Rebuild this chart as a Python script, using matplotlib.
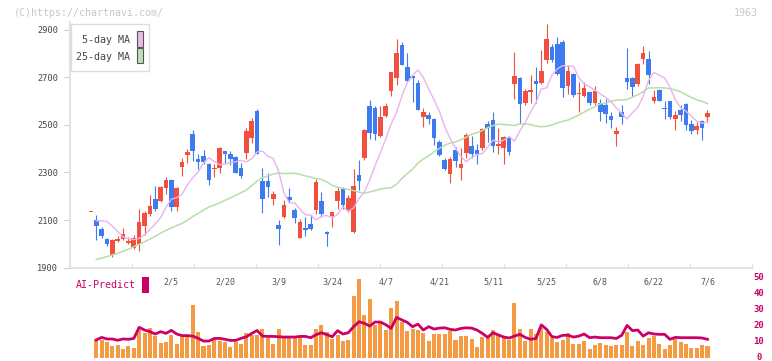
import matplotlib
matplotlib.use('Agg')
import matplotlib.pyplot as plt
from matplotlib.patches import Rectangle

# price candles, one per trading day (day 0 = previous close marker)
opens = [2133, 2100, 2062, 2020, 1953, 2012, 2020, 2005, 1984, 1999,
         2076, 2125, 2188, 2180, 2235, 2268, 2155, 2323, 2375, 2462,
         2357, 2369, 2335, 2314, 2319, 2390, 2377, 2365, 2319, 2382,
         2445, 2558, 2264, 2264, 2188, 2079, 2113, 2197, 2142, 2026,
         2067, 2084, 2142, 2180, 2050, 2117, 2180, 2231, 2138, 2050,
         2289, 2360, 2579, 2571, 2453, 2537, 2642, 2697, 2835, 2743,
         2705, 2676, 2533, 2542, 2525, 2428, 2352, 2294, 2394, 2319,
         2382, 2411, 2394, 2403, 2504, 2520, 2411, 2403, 2449, 2672,
         2697, 2592, 2638, 2684, 2676, 2772, 2827, 2840, 2848, 2663,
         2714, 2630, 2621, 2638, 2592, 2592, 2583, 2537, 2462, 2554,
         2697, 2697, 2672, 2777, 2777, 2600, 2646, 2571, 2600, 2525,
         2562, 2588, 2504, 2478, 2516, 2533]
highs = [2133, 2121, 2070, 2026, 2021, 2033, 2067, 2030, 2037, 2146,
         2139, 2206, 2243, 2243, 2283, 2273, 2238, 2362, 2400, 2478,
         2377, 2394, 2340, 2335, 2405, 2392, 2390, 2370, 2340, 2487,
         2529, 2567, 2320, 2299, 2223, 2100, 2184, 2235, 2151, 2104,
         2113, 2121, 2273, 2218, 2054, 2136, 2239, 2239, 2205, 2315,
         2352, 2483, 2604, 2579, 2579, 2592, 2722, 2861, 2848, 2802,
         2706, 2689, 2571, 2554, 2529, 2436, 2361, 2365, 2407, 2403,
         2466, 2453, 2420, 2485, 2516, 2554, 2487, 2452, 2452, 2806,
         2700, 2651, 2709, 2743, 2815, 2924, 2840, 2869, 2856, 2751,
         2718, 2680, 2680, 2640, 2663, 2608, 2608, 2554, 2491, 2583,
         2823, 2701, 2760, 2831, 2810, 2646, 2650, 2600, 2602, 2558,
         2583, 2590, 2520, 2512, 2520, 2562]
lows = [2133, 2018, 2025, 1991, 1947, 2008, 2018, 1998, 1978, 1971,
        2037, 2117, 2140, 2176, 2210, 2139, 2139, 2285, 2341, 2348,
        2315, 2335, 2247, 2281, 2299, 2335, 2330, 2298, 2275, 2357,
        2424, 2377, 2130, 2197, 2163, 1995, 2109, 2176, 2088, 2025,
        2033, 2058, 2125, 2113, 1991, 2071, 2146, 2146, 2134, 2046,
        2226, 2352, 2440, 2436, 2449, 2533, 2621, 2668, 2751, 2680,
        2596, 2563, 2491, 2504, 2415, 2369, 2310, 2256, 2323, 2268,
        2361, 2361, 2335, 2394, 2428, 2386, 2377, 2335, 2373, 2608,
        2504, 2583, 2592, 2592, 2672, 2760, 2764, 2709, 2617, 2630,
        2617, 2554, 2617, 2583, 2583, 2516, 2508, 2487, 2411, 2504,
        2651, 2617, 2663, 2755, 2672, 2592, 2600, 2525, 2525, 2478,
        2516, 2478, 2462, 2462, 2436, 2512]
closes = [2133, 2076, 2034, 1999, 2016, 2020, 2041, 2013, 2025, 2092,
          2130, 2159, 2146, 2239, 2268, 2156, 2235, 2344, 2386, 2390,
          2344, 2344, 2268, 2319, 2403, 2377, 2356, 2298, 2285, 2474,
          2516, 2377, 2188, 2239, 2210, 2062, 2163, 2184, 2109, 2092,
          2058, 2062, 2260, 2125, 2041, 2134, 2222, 2163, 2193, 2243,
          2264, 2478, 2466, 2462, 2533, 2579, 2722, 2802, 2751, 2684,
          2697, 2563, 2554, 2525, 2445, 2373, 2314, 2357, 2348, 2335,
          2457, 2377, 2377, 2483, 2487, 2411, 2420, 2449, 2386, 2705,
          2588, 2642, 2646, 2672, 2726, 2861, 2772, 2714, 2655, 2726,
          2625, 2634, 2655, 2592, 2642, 2554, 2546, 2520, 2474, 2533,
          2680, 2659, 2755, 2802, 2709, 2617, 2600, 2567, 2533, 2542,
          2542, 2499, 2474, 2495, 2487, 2550]

# moving averages, days 1..115
ma5 = [2097, 2097, 2094, 2074, 2052, 2029, 2022, 2018, 2023, 2038,
       2060, 2084, 2110, 2153, 2188, 2194, 2209, 2248, 2278, 2302,
       2340, 2362, 2346, 2333, 2336, 2342, 2345, 2351, 2344, 2358,
       2386, 2390, 2368, 2359, 2306, 2215, 2172, 2172, 2146, 2122,
       2121, 2101, 2116, 2119, 2109, 2124, 2156, 2137, 2151, 2191,
       2217, 2268, 2329, 2383, 2441, 2504, 2552, 2620, 2677, 2708,
       2731, 2699, 2650, 2605, 2557, 2492, 2442, 2403, 2367, 2345,
       2362, 2375, 2379, 2406, 2436, 2427, 2436, 2450, 2431, 2474,
       2510, 2554, 2593, 2651, 2655, 2709, 2735, 2749, 2746, 2746,
       2698, 2671, 2659, 2646, 2630, 2615, 2598, 2571, 2547, 2525,
       2551, 2573, 2620, 2686, 2721, 2708, 2697, 2659, 2605, 2572,
       2557, 2537, 2515, 2507, 2513]
ma25 = [1935, 1940, 1947, 1954, 1961, 1969, 1978, 1988, 1998, 2009,
        2020, 2032, 2045, 2057, 2067, 2077, 2086, 2100, 2115, 2128,
        2142, 2155, 2163, 2172, 2183, 2193, 2204, 2215, 2226, 2245,
        2264, 2278, 2285, 2293, 2298, 2295, 2296, 2297, 2292, 2285,
        2281, 2274, 2271, 2260, 2246, 2238, 2233, 2229, 2224, 2217,
        2213, 2218, 2224, 2231, 2234, 2236, 2250, 2275, 2295, 2314,
        2340, 2356, 2370, 2387, 2401, 2414, 2424, 2428, 2437, 2448,
        2461, 2467, 2476, 2488, 2497, 2503, 2501, 2500, 2497, 2504,
        2504, 2501, 2495, 2492, 2494, 2500, 2508, 2515, 2520, 2531,
        2541, 2554, 2566, 2576, 2588, 2592, 2599, 2604, 2604, 2606,
        2617, 2626, 2639, 2655, 2655, 2656, 2655, 2652, 2646, 2639,
        2626, 2615, 2605, 2599, 2589]

# lower panel, days 1..115
volume = [11.7, 11.0, 9.8, 7.3, 7.9, 5.4, 7.3, 6.0, 17.3, 15.4,
          18.5, 13.5, 9.2, 9.8, 14.2, 8.5, 12.9, 12.9, 32.9, 16.0,
          7.3, 7.9, 11.0, 10.4, 9.8, 6.7, 9.8, 8.5, 15.4, 14.0,
          14.2, 17.9, 12.3, 8.5, 17.9, 12.3, 12.3, 12.3, 12.9, 7.9,
          7.9, 17.9, 20.4, 16.0, 11.7, 14.2, 10.4, 11.0, 38.6, 49.2,
          26.7, 36.7, 20.4, 21.7, 17.3, 31.0, 35.4, 22.3, 16.7, 17.9,
          17.3, 15.4, 10.4, 14.8, 14.8, 14.8, 16.7, 11.0, 13.5, 13.5,
          11.7, 6.7, 12.9, 12.3, 17.3, 14.8, 13.0, 11.0, 34.2, 17.9,
          10.4, 17.9, 14.8, 18.5, 16.0, 12.3, 9.8, 11.0, 15.4, 8.5,
          8.5, 10.4, 5.4, 7.9, 9.2, 7.9, 7.3, 7.9, 7.9, 16.0,
          7.3, 10.4, 7.9, 12.3, 13.5, 8.5, 5.4, 7.9, 11.7, 9.8,
          8.5, 6.0, 6.0, 7.9, 7.3]
ai_predict = [11.1, 12.7, 11.7, 11.7, 10.9, 11.7, 11.5, 12.0, 19.0, 17.3,
              16.3, 14.8, 16.3, 15.2, 17.1, 14.8, 13.8, 13.8, 13.5, 12.1,
              10.4, 10.4, 12.0, 12.1, 11.5, 10.8, 10.8, 12.1, 13.1, 15.2,
              17.0, 13.5, 13.3, 13.3, 13.1, 12.9, 12.9, 12.9, 13.3, 13.3,
              12.5, 14.4, 15.6, 14.4, 13.1, 16.9, 14.8, 15.6, 19.4, 22.5,
              21.5, 19.8, 22.3, 22.3, 20.6, 18.3, 25.2, 23.6, 22.1, 19.4,
              21.0, 17.3, 19.4, 17.9, 18.5, 18.7, 17.7, 17.3, 18.3, 18.7,
              18.5, 17.3, 15.2, 12.7, 15.6, 14.2, 12.9, 12.3, 13.5, 14.6,
              12.7, 11.5, 12.0, 20.5, 17.7, 13.1, 12.7, 14.0, 14.0, 12.9,
              13.5, 14.8, 12.5, 12.9, 12.5, 12.5, 12.5, 12.0, 14.0, 20.2,
              16.9, 17.3, 13.5, 15.6, 14.8, 14.6, 14.6, 11.5, 12.7, 12.5,
              12.5, 12.5, 12.5, 12.3, 11.5]

date_labels = ['2/5', '2/20', '3/9', '3/24', '4/7', '4/21',
               '5/11', '5/25', '6/8', '6/22', '7/6']
date_days = [15, 25, 35, 45, 55, 65, 75, 85, 95, 105, 115]

W, H = 772, 361
RED = '#f2503f'
BLUE = '#3f7bf0'
CRIMSON = '#cc0066'
MONO = 'DejaVu Sans Mono'

def fx(x):
    return x / W

def fy(y):
    return 1 - y / H

fig = plt.figure(figsize=(W / 100, H / 100), dpi=100)

# main price panel
y_bottom_px = 267.7
px_per_unit = 1 / 4.2
ytop = 2930
top_px = y_bottom_px - (ytop - 1900) * px_per_unit
ax = fig.add_axes([fx(70), fy(y_bottom_px), fx(752) - fx(70), (y_bottom_px - top_px) / H])

days = list(range(len(closes)))
for d in days:
    o, h, l, c = opens[d], highs[d], lows[d], closes[d]
    col = RED if c >= o else BLUE
    ax.vlines(d, l, h, color=col, lw=0.8, zorder=2)
    ax.bar(d, max(abs(c - o), 5), bottom=min(o, c), width=0.86,
           color=col, linewidth=0, zorder=3)

ma_days = list(range(1, len(closes)))
ax.plot(ma_days, ma25, color='#b8dea8', lw=1.1, zorder=4)
ax.plot(ma_days, ma5, color='#e8b4ee', lw=1.0, zorder=4)

ax.set_xlim(-3.9, 123.3)
ax.set_ylim(1900, ytop)
ax.set_yticks(range(1900, 3000, 200))
ax.set_yticklabels([str(v) for v in range(1900, 3000, 200)],
                   fontfamily=MONO, fontsize=6.2, color='#444444')
ax.tick_params(axis='y', length=4, width=0.8, color='#cccccc', pad=4.5)
step = (123.3 + 3.9) / 11
ax.set_xticks([-3.9 + step * i for i in range(12)])
ax.set_xticklabels([])
ax.tick_params(axis='x', direction='in', length=3, width=0.8, color='#d8d8d8')
for s in ['top', 'right']:
    ax.spines[s].set_visible(False)
for s in ['left', 'bottom']:
    ax.spines[s].set_color('#e3e3e3')
    ax.spines[s].set_linewidth(1.5)

# lower panel: volume bars + AI-Predict
vax = fig.add_axes([fx(70), fy(357.7), fx(752) - fx(70), 80 / H])
vdays = list(range(1, len(closes)))
vax.bar(vdays, volume, width=0.75, color='#f39a42', linewidth=0, zorder=2)
vax.plot(vdays, ai_predict, color=CRIMSON, lw=2.0, zorder=3)
vax.set_xlim(-3.9, 123.3)
vax.set_ylim(0, 50)
vax.axis('off')

for lab, d in zip(date_labels, date_days):
    vax.text(d, (357.7 - 282.3) / 1.6, lab, ha='center', va='center',
             fontfamily=MONO, fontsize=6, color='#555555')

for v in range(0, 60, 10):
    fig.text(fx(759), fy(357.7 - v * 1.6), str(v), ha='center', va='center',
             fontfamily=MONO, fontsize=6.5, fontweight='bold', color=CRIMSON)

fig.text(fx(76), fy(285.5), 'AI-Predict', ha='left', va='center',
         fontfamily=MONO, fontsize=7.2, color=CRIMSON)
fig.add_artist(Rectangle((fx(142.3), fy(292.7)), fx(6.4), 16 / H,
                         transform=fig.transFigure, color=CRIMSON, lw=0))

# legend box
fig.add_artist(Rectangle((fx(70.5), fy(71.3)), fx(78.2), 47.3 / H,
                         transform=fig.transFigure, facecolor='white',
                         edgecolor='#dddddd', lw=1, zorder=5))
fig.add_artist(Rectangle((fx(136.5), fy(46.5)), fx(6), 15.3 / H,
                         transform=fig.transFigure, facecolor='#ebb8eb',
                         edgecolor='#555555', lw=0.8, zorder=6))
fig.add_artist(Rectangle((fx(136.5), fy(63.3)), fx(6), 15 / H,
                         transform=fig.transFigure, facecolor='#bfe0b2',
                         edgecolor='#555555', lw=0.8, zorder=6))
fig.text(fx(130), fy(40), '5-day MA', ha='right', va='center',
         fontfamily=MONO, fontsize=7.2, color='#444444', zorder=7)
fig.text(fx(130), fy(56.7), '25-day MA', ha='right', va='center',
         fontfamily=MONO, fontsize=7.2, color='#444444', zorder=7)

fig.text(fx(14), fy(12.5), '(C)https://chartnavi.com/', ha='left', va='center',
         fontfamily=MONO, fontsize=7.2, color='#c8c8c8')
fig.text(fx(757.5), fy(12.5), '1963', ha='right', va='center',
         fontfamily=MONO, fontsize=7.2, color='#c8c8c8')

fig.savefig('out.png', dpi=100)
